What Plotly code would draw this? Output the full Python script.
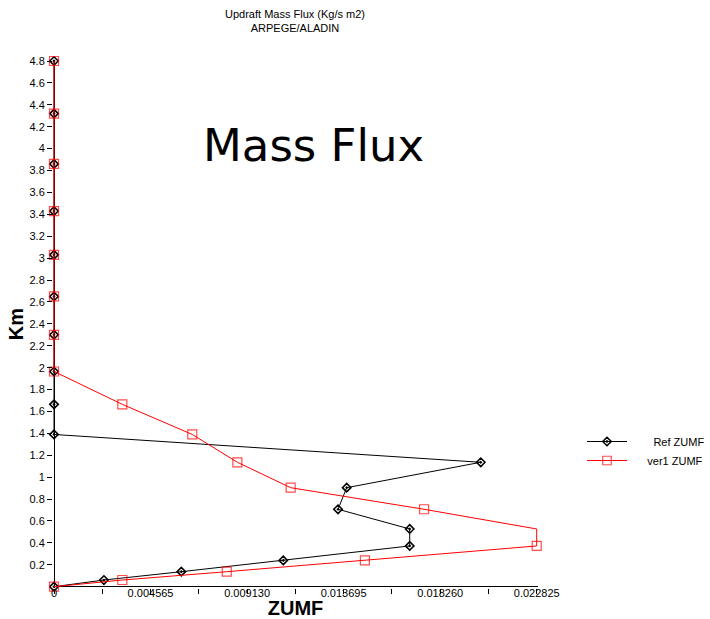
import plotly.graph_objects as go

# ---- data ----
heights_km = [0, 0.061, 0.137, 0.24, 0.372, 0.527, 0.707, 0.904, 1.136, 1.39, 1.665,
              1.965, 2.30, 2.65, 3.03, 3.43, 3.86, 4.32, 4.8]
ref_zumf = [0, 0.00236, 0.00602, 0.01084, 0.01682, 0.01682, 0.01343, 0.01384, 0.02018,
            0, 0, 0, 0, 0, 0, 0, 0, 0, 0]
ver1_zumf = [0, 0.00323, 0.00817, 0.0147, 0.022825, 0.0241, 0.0175, 0.01119, 0.00867,
             0.00654, 0.00323, 0, 0, 0, 0, 0, 0, 0, 0]
series_names = ["Ref ZUMF", "ver1 ZUMF"]

x_tickvals = [0, 0.0022825, 0.004565, 0.0068475, 0.00913, 0.0114125, 0.013695,
              0.0159775, 0.01826, 0.0205425, 0.022825]
x_ticktext = ["0", "", "0.004565", "", "0.009130", "", "0.013695", "", "0.018260", "", "0.022825"]
y_tickvals = [0.2, 0.4, 0.6, 0.8, 1.0, 1.2, 1.4, 1.6, 1.8, 2.0, 2.2, 2.4, 2.6, 2.8, 3.0,
              3.2, 3.4, 3.6, 3.8, 4.0, 4.2, 4.4, 4.6, 4.8]
y_ticktext = ["0.2", "0.4", "0.6", "0.8", "1", "1.2", "1.4", "1.6", "1.8", "2", "2.2", "2.4",
              "2.6", "2.8", "3", "3.2", "3.4", "3.6", "3.8", "4", "4.2", "4.4", "4.6", "4.8"]

XMAX = 0.022825
FONT = "Liberation Sans, Arial, sans-serif"

W, H = 710, 619
ML, MR, MT, MB = 53, 172, 60, 31
PW, PH = W - ML - MR, H - MT - MB


def px_x(p):
    return (p - ML) / PW


def px_y(p):
    return (H - MB - p) / PH


# values beyond the plotted range are clamped at the frame edge (as in the original), markers hidden
ver1_plot = [min(v, XMAX) for v in ver1_zumf]
ver1_sizes = [9 if v <= XMAX else 0 for v in ver1_zumf]

# legend labels are right-aligned in the original: pad on the left with no-break spaces
NBSP = "\u00a0"
legend_pad = [7, 5]

fig = go.Figure()
fig.add_trace(go.Scatter(
    x=ref_zumf, y=heights_km, mode="lines+markers", name=NBSP * legend_pad[0] + series_names[0],
    line=dict(color="black", width=1),
    marker=dict(symbol="diamond-open-dot", size=6.5, color="black", line=dict(width=1.6, color="black")),
    cliponaxis=False,
))
fig.add_trace(go.Scatter(
    x=ver1_plot, y=heights_km, mode="lines+markers", name=NBSP * legend_pad[1] + series_names[1],
    line=dict(color="red", width=1),
    marker=dict(symbol="square-open", size=ver1_sizes, color="red", line=dict(width=1.2, color="red")),
    cliponaxis=False,
))

fig.update_layout(
    width=W, height=H,
    margin=dict(l=ML, r=MR, t=MT, b=MB, autoexpand=False),
    paper_bgcolor="white", plot_bgcolor="white",
    font=dict(family=FONT, size=11, color="black"),
    title=dict(text="Updraft Mass Flux (Kg/s m2)<br>ARPEGE/ALADIN",
               x=295 / W, xanchor="center", y=1 - 18 / H, yanchor="top",
               font=dict(family=FONT, size=11, color="black")),
    showlegend=True,
    legend=dict(x=px_x(582), xanchor="left", y=px_y(427), yanchor="top",
                bgcolor="rgba(0,0,0,0)", font=dict(family=FONT, size=11, color="black"),
                tracegroupgap=0, itemwidth=40),
    xaxis=dict(
        range=[-1 / 21148, 0.022886], automargin=False,
        tickmode="array", tickvals=x_tickvals, ticktext=x_ticktext,
        ticks="outside", ticklen=5, tickcolor="black", tickwidth=1,
        showgrid=False, showline=False,
        zeroline=True, zerolinecolor="black", zerolinewidth=1,
        tickfont=dict(family=FONT, size=11, color="black"),
        ticklabelstandoff=-10,
        title=dict(text="<b>ZUMF</b>", font=dict(family=FONT, size=20, color="black"), standoff=6),
    ),
    yaxis=dict(
        range=[-0.0119, 4.8091], automargin=False,
        tickmode="array", tickvals=y_tickvals, ticktext=y_ticktext,
        ticks="outside", ticklen=5, tickcolor="black", tickwidth=1,
        showgrid=False, showline=False,
        zeroline=True, zerolinecolor="black", zerolinewidth=1,
        tickfont=dict(family=FONT, size=11, color="black"),
        title=dict(text="<b>Km</b>", font=dict(family=FONT, size=20, color="black"), standoff=0),
    ),
    annotations=[dict(text="Mass Flux", x=px_x(313), y=px_y(145), xref="paper", yref="paper",
                      xanchor="center", yanchor="middle", showarrow=False,
                      font=dict(family="DejaVu Sans", size=45, color="black"))],
)

fig.write_html("out.html")
